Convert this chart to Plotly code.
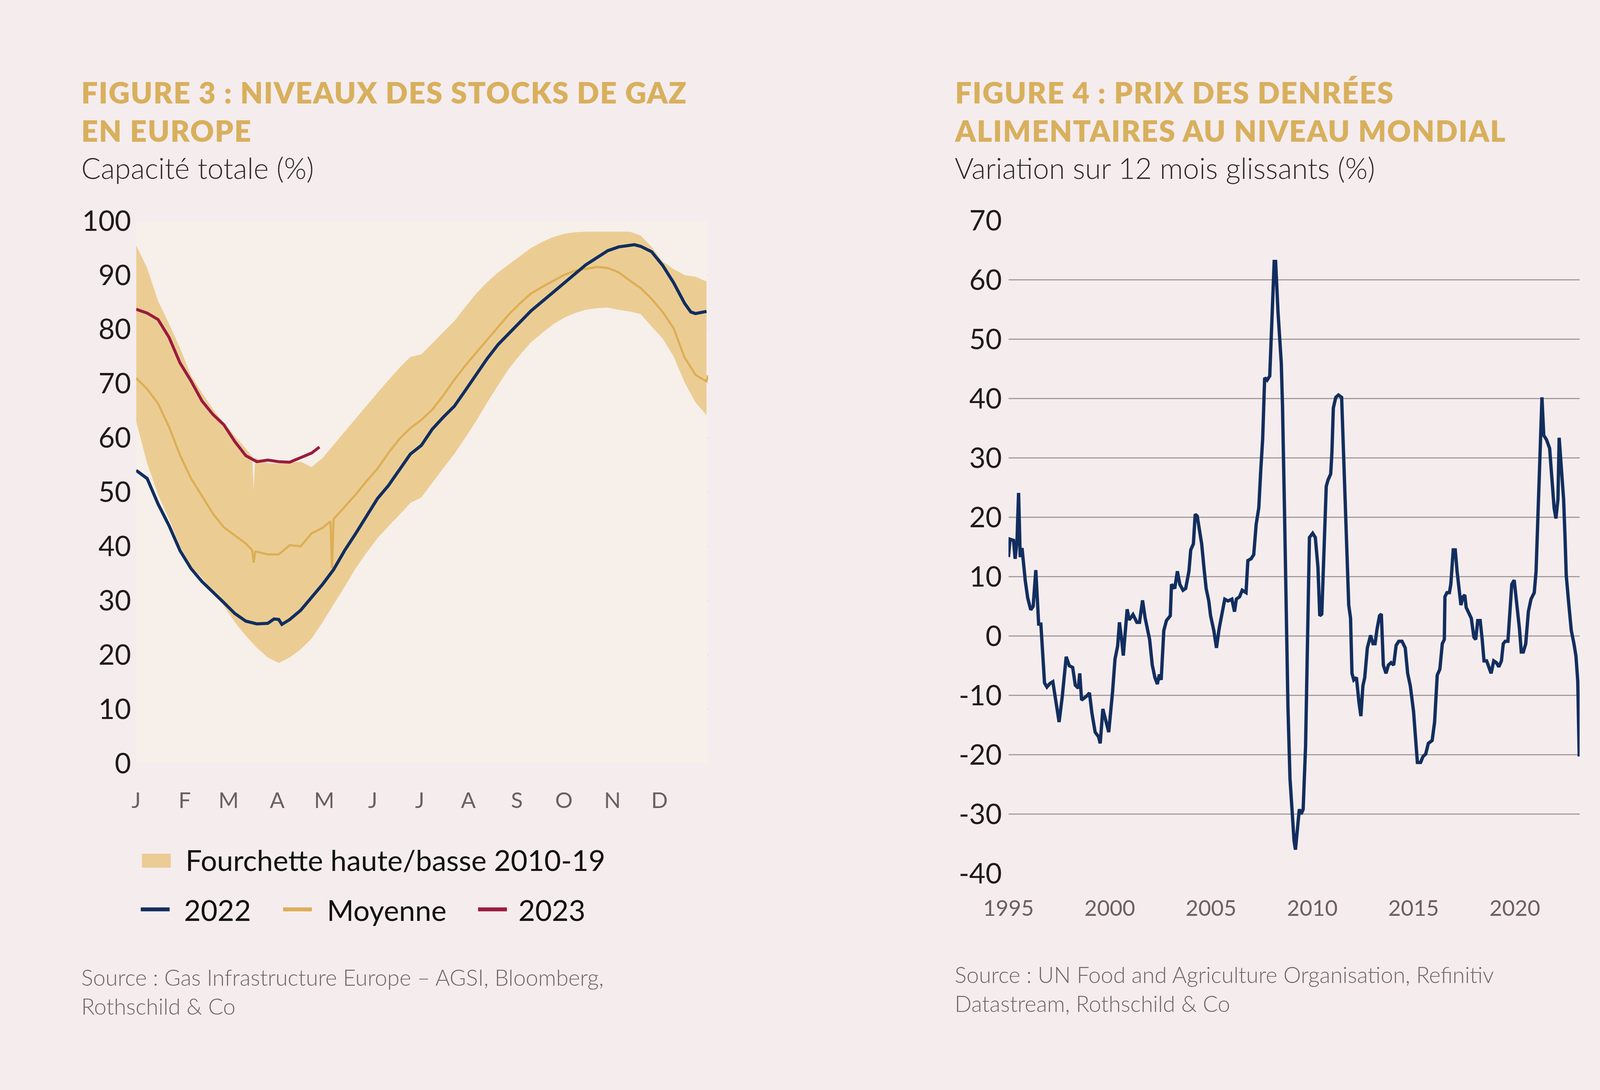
import plotly.graph_objects as go

# ── page geometry (pixels of the 4224 x 2791 page) ───────────────────────────
W, H = 4224, 2791

def px(x):
    return x / W

def py(y):
    return 1 - y / H

# ── colours / fonts ──────────────────────────────────────────────────────────
PAGE_BG = "#F5ECEE"
PLOT_BG = "#F6EFEA"
GOLD = "#D8B05D"
BAND = "rgba(231,194,119,0.75)"
MOY_COL = "#DDAE55"
NAVY = "#122E5E"
RED = "#9A1B3E"
GRID = "#A39C9C"
FONT = "Lato, 'Open Sans', sans-serif"

# ── Figure 3 : gas storage (day of year) ─────────────────────────────────────
DAYS = [0, 7, 14, 21, 28, 35, 42, 49, 56, 63, 70, 74, 75, 76, 77, 84, 91, 98,
        105, 112, 119, 126, 133, 140, 147, 154, 161, 168, 175, 182, 189, 196,
        203, 210, 217, 224, 231, 238, 245, 252, 259, 266, 273, 280, 287, 294,
        301, 308, 315, 322, 329, 336, 343, 350, 357, 364]
BAND_HI = [95.5, 91.3, 85.2, 81.0, 76.5, 71.5, 68.3, 65.3, 62.7, 60.3, 58.0,
           56.6, 50.5, 56.4, 56.2, 55.3, 55.3, 55.4, 55.6, 54.6, 56.3, 58.7,
           61.1, 63.5, 65.9, 68.3, 70.6, 72.9, 74.9, 75.4, 77.4, 79.5, 81.5,
           84.1, 86.6, 88.7, 90.5, 92.0, 93.5, 95.0, 96.1, 97.0, 97.6, 97.9,
           98.0, 98.0, 98.0, 98.0, 98.0, 97.3, 95.2, 92.5, 91.1, 90.0, 89.7,
           88.8]
BAND_LO = [63.0, 55.3, 49.5, 45.0, 40.0, 36.3, 34.2, 31.5, 29.0, 26.0, 23.5,
           22.2, 21.9, 21.6, 21.3, 19.5, 18.5, 19.5, 21.0, 23.0, 26.0, 29.3,
           32.5, 35.9, 38.8, 41.5, 43.7, 45.8, 48.0, 49.0, 51.7, 54.4, 57.0,
           60.0, 63.1, 66.5, 69.7, 72.8, 75.3, 77.6, 79.3, 80.9, 82.1, 83.0,
           83.6, 83.9, 84.0, 83.6, 83.3, 82.8, 80.5, 78.3, 75.0, 70.2, 66.5,
           64.2]

MOY_DAYS = [0, 7, 14, 21, 28, 35, 42, 49, 56, 63, 70, 74, 75, 76, 77, 84, 91,
            98, 105, 112, 119, 124, 125, 126, 133, 140, 147, 154, 161, 168,
            175, 182, 189, 196, 203, 210, 217, 224, 231, 238, 245, 252, 259,
            266, 273, 280, 287, 294, 301, 308, 315, 322, 329, 336, 343, 350,
            357, 364, 365]
MOYENNE = [71.0, 69.0, 66.3, 62.0, 56.8, 52.5, 49.3, 46.0, 43.5, 42.0, 40.5,
           39.3, 37.0, 39.0, 39.0, 38.5, 38.5, 40.2, 40.0, 42.4, 43.4, 44.6,
           36.0, 45.0, 47.3, 49.5, 52.0, 54.3, 57.2, 59.8, 61.8, 63.3, 65.2,
           67.8, 70.7, 73.3, 75.7, 78.1, 80.5, 82.8, 84.8, 86.6, 87.8, 88.9,
           90.0, 90.8, 91.2, 91.5, 91.3, 90.5, 89.0, 87.6, 85.6, 83.2, 80.2,
           74.8, 71.6, 70.4, 71.5]

Y2022_DAYS = [0, 7, 14, 21, 28, 35, 42, 49, 56, 63, 70, 77, 84, 88, 91, 93, 98,
              105, 112, 119, 126, 133, 140, 147, 154, 161, 168, 175, 182, 189,
              196, 203, 210, 217, 224, 231, 238, 245, 252, 259, 266, 273, 280,
              287, 294, 301, 308, 315, 318, 322, 329, 336, 343, 350, 354, 357,
              364]
Y2022 = [54.0, 52.5, 47.8, 43.8, 39.2, 35.9, 33.5, 31.6, 29.6, 27.6, 26.2,
         25.7, 25.8, 26.6, 26.5, 25.6, 26.5, 28.2, 30.5, 33.0, 35.7, 39.2, 42.3,
         45.5, 48.8, 51.2, 54.0, 57.0, 58.6, 61.6, 63.8, 65.8, 68.7, 71.7, 74.6,
         77.2, 79.3, 81.4, 83.4, 85.1, 86.8, 88.4, 90.2, 91.9, 93.2, 94.5, 95.2,
         95.5, 95.6, 95.3, 94.3, 91.8, 88.6, 84.8, 83.2, 82.9, 83.3]

Y2023_DAYS = [0, 7, 14, 21, 28, 35, 42, 49, 56, 63, 70, 77, 84, 91, 98, 105,
              112, 117]
Y2023 = [83.7, 83.0, 81.8, 78.5, 73.8, 70.5, 66.8, 64.3, 62.4, 59.3, 56.7,
         55.6, 55.9, 55.6, 55.5, 56.3, 57.2, 58.3]

MONTH_DAYS = [0, 31, 59, 90, 120, 151, 181, 212, 243, 273, 304, 334]
MONTH_LABELS = ["J", "F", "M", "A", "M", "J", "J", "A", "S", "O", "N", "D"]
GAS_TICKS = [0, 10, 20, 30, 40, 50, 60, 70, 80, 90, 100]

# ── Figure 4 : world food prices, 12m change (%) ─────────────────────────────
FOOD_T = [
    1995.00, 1995.08, 1995.25, 1995.33, 1995.42, 1995.50, 1995.58, 1995.67,
    1995.83, 1995.95, 1996.10, 1996.22, 1996.35, 1996.49, 1996.60, 1996.78,
    1996.90, 1997.05, 1997.19, 1997.35, 1997.50, 1997.66, 1997.85, 1998.00,
    1998.17, 1998.30, 1998.45, 1998.52, 1998.61, 1998.87, 1999.00, 1999.12,
    1999.28, 1999.45, 1999.53, 1999.66, 1999.80, 1999.95, 2000.14, 2000.26,
    2000.39, 2000.48, 2000.60, 2000.67, 2000.86, 2000.96, 2001.15, 2001.34,
    2001.47, 2001.62, 2001.75, 2001.85, 2001.97, 2002.10, 2002.23, 2002.35,
    2002.45, 2002.54, 2002.67, 2002.80, 2002.99, 2003.05, 2003.21, 2003.34,
    2003.46, 2003.62, 2003.75, 2003.91, 2004.00, 2004.13, 2004.22, 2004.32,
    2004.45, 2004.54, 2004.67, 2004.76, 2004.89, 2004.98, 2005.14, 2005.27,
    2005.40, 2005.52, 2005.68, 2005.84, 2006.03, 2006.16, 2006.25, 2006.41,
    2006.54, 2006.73, 2006.82, 2006.98, 2007.11, 2007.23, 2007.36, 2007.46,
    2007.55, 2007.65, 2007.77, 2007.90, 2007.99, 2008.12, 2008.19, 2008.31,
    2008.47, 2008.53, 2008.63, 2008.72, 2008.80, 2008.90, 2009.00, 2009.10,
    2009.17, 2009.26, 2009.36, 2009.45, 2009.55, 2009.67, 2009.77, 2009.86,
    2010.02, 2010.15, 2010.28, 2010.37, 2010.47, 2010.59, 2010.69, 2010.78,
    2010.91, 2010.97, 2011.04, 2011.16, 2011.29, 2011.45, 2011.54, 2011.64,
    2011.73, 2011.80, 2011.89, 2011.96, 2012.05, 2012.18, 2012.31, 2012.40,
    2012.50, 2012.59, 2012.72, 2012.88, 2013.00, 2013.10, 2013.20, 2013.32,
    2013.41, 2013.51, 2013.64, 2013.76, 2013.89, 2014.02, 2014.14, 2014.27,
    2014.43, 2014.59, 2014.71, 2014.84, 2015.00, 2015.12, 2015.19, 2015.35,
    2015.47, 2015.60, 2015.73, 2015.92, 2016.04, 2016.17, 2016.30, 2016.42,
    2016.52, 2016.55, 2016.65, 2016.77, 2016.84, 2016.96, 2017.06, 2017.15,
    2017.25, 2017.34, 2017.44, 2017.53, 2017.60, 2017.69, 2017.85, 2017.98,
    2018.07, 2018.17, 2018.29, 2018.39, 2018.48, 2018.61, 2018.71, 2018.83,
    2018.96, 2019.09, 2019.21, 2019.34, 2019.43, 2019.53, 2019.66, 2019.75,
    2019.85, 2019.97, 2020.10, 2020.23, 2020.32, 2020.42, 2020.54, 2020.67,
    2020.80, 2020.96, 2021.05, 2021.15, 2021.24, 2021.34, 2021.43, 2021.56,
    2021.72, 2021.81, 2021.94, 2022.03, 2022.13, 2022.19, 2022.29, 2022.41,
    2022.48, 2022.54, 2022.67, 2022.79, 2022.92, 2023.02, 2023.11, 2023.18,
]
FOOD_YOY = [
    13.3, 16.3, 16.1, 13.0, 15.9, 24.1, 13.3, 14.8,
    9.3, 6.4, 4.4, 5.0, 11.1, 2.0, 2.0, -7.9,
    -8.6, -8.0, -7.7, -11.6, -14.5, -10.1, -3.5, -5.0,
    -5.3, -8.3, -8.8, -6.3, -10.8, -10.1, -9.6, -13.0,
    -16.2, -17.0, -18.1, -12.3, -14.5, -16.2, -9.4, -3.9,
    -1.7, 2.3, -1.0, -3.3, 4.5, 2.7, 3.6, 2.3,
    2.3, 6.0, 3.0, 1.5, -0.6, -4.9, -7.0, -8.1,
    -6.5, -7.4, 0.9, 2.6, 3.4, 8.7, 8.0, 10.9,
    8.7, 7.7, 8.0, 10.9, 14.5, 15.5, 20.5, 20.2,
    17.3, 15.5, 10.9, 8.0, 5.9, 3.4, 0.9, -2.0,
    1.2, 3.4, 6.2, 5.9, 6.2, 4.1, 6.2, 6.6,
    7.7, 7.3, 12.7, 13.0, 13.7, 18.8, 21.6, 28.1,
    33.1, 43.5, 43.1, 43.8, 53.1, 63.1, 63.1, 54.5,
    46.0, 38.8, 20.9, 3.0, -12.0, -24.0, -30.0, -34.5,
    -36.0, -32.1, -29.2, -30.0, -29.2, -18.5, -0.6, 16.6,
    17.3, 16.6, 11.6, 3.4, 3.7, 15.2, 25.2, 26.3,
    27.3, 30.9, 38.4, 40.2, 40.6, 40.2, 31.6, 22.3,
    13.0, 5.2, 3.0, -6.3, -7.4, -7.0, -11.3, -13.5,
    -8.4, -7.0, -2.0, 0.1, -1.3, -1.3, 1.2, 3.4,
    3.7, -4.9, -6.3, -4.9, -4.5, -4.9, -1.6, -0.9,
    -0.9, -2.0, -6.3, -8.4, -12.7, -18.5, -21.3, -21.3,
    -20.3, -19.9, -18.1, -17.6, -14.5, -6.6, -5.6, -1.3,
    -0.6, 6.6, 7.3, 7.3, 8.7, 14.5, 14.5, 10.9,
    7.3, 5.2, 6.6, 6.9, 4.8, 4.1, 3.0, -0.2,
    -0.6, 2.6, 2.6, -0.6, -4.2, -4.2, -5.2, -6.3,
    -4.2, -4.5, -5.2, -4.2, -1.3, -0.9, -0.9, 3.7,
    8.7, 9.4, 5.5, 1.2, -2.7, -2.7, -1.3, 4.1,
    6.2, 7.3, 10.9, 20.9, 30.9, 40.2, 33.8, 33.1,
    31.6, 28.1, 21.6, 19.8, 23.0, 33.4, 28.8, 23.0,
    16.6, 10.2, 5.2, 0.9, -1.3, -3.4, -7.7, -20.3,
]
YEAR_TICKS = [1995, 2000, 2005, 2010, 2015, 2020]
FOOD_TICKS = [-40, -30, -20, -10, 0, 10, 20, 30, 40, 50, 60, 70]


fig = go.Figure()

# Left — band (lower edge first, upper edge fills down to it)
fig.add_trace(go.Scatter(
    x=DAYS, y=BAND_LO, mode="lines", line=dict(width=0, color=BAND),
    hoverinfo="skip", showlegend=False, xaxis="x", yaxis="y",
))
fig.add_trace(go.Scatter(
    x=DAYS, y=BAND_HI, mode="lines", line=dict(width=0, color=BAND),
    fill="tonexty", fillcolor=BAND,
    name="Fourchette haute/basse 2010-19", showlegend=False,
    xaxis="x", yaxis="y",
))
fig.add_trace(go.Scatter(
    x=MOY_DAYS, y=MOYENNE, mode="lines", name="Moyenne",
    line=dict(color=MOY_COL, width=5.5), showlegend=False,
    xaxis="x", yaxis="y",
))
fig.add_trace(go.Scatter(
    x=Y2022_DAYS, y=Y2022, mode="lines", name="2022",
    line=dict(color=NAVY, width=8), showlegend=False,
    xaxis="x", yaxis="y",
))
fig.add_trace(go.Scatter(
    x=Y2023_DAYS, y=Y2023, mode="lines", name="2023",
    line=dict(color=RED, width=7.5), showlegend=False,
    xaxis="x", yaxis="y",
))

# Right — food prices
fig.add_trace(go.Scatter(
    x=FOOD_T, y=FOOD_YOY, mode="lines", name="FAO",
    line=dict(color=NAVY, width=8.5), showlegend=False,
    xaxis="x2", yaxis="y2",
))

tick_dark = dict(family=FONT, size=72, color="#1E1B1B")
tick_grey = dict(family=FONT, size=56, color="#6A6060")

fig.update_layout(
    width=W, height=H, autosize=False,
    margin=dict(l=0, r=0, t=0, b=0),
    paper_bgcolor=PAGE_BG,
    plot_bgcolor=PAGE_BG,
    font=dict(family=FONT, color="#2A2626"),
    xaxis=dict(
        domain=[px(288), px(1775)], range=[0, 365],
        tickvals=MONTH_DAYS, ticktext=MONTH_LABELS,
        tickfont=tick_grey, ticks="", showgrid=False, zeroline=False,
        showline=False, ticklabelstandoff=58, anchor="y",
    ),
    yaxis=dict(
        domain=[py(1969), py(536)], range=[0, 100],
        tickvals=GAS_TICKS, ticktext=[str(v) for v in GAS_TICKS],
        tickfont=tick_dark, ticks="", showgrid=True, gridcolor=GRID,
        gridwidth=2.5, zeroline=False, showline=False,
        ticklabelstandoff=12, anchor="x",
    ),
    xaxis2=dict(
        domain=[px(2556), px(4041)], range=[1995, 2023.2],
        tickvals=YEAR_TICKS, ticktext=[str(v) for v in YEAR_TICKS],
        tickfont=tick_grey, ticks="", showgrid=False, zeroline=False,
        showline=False, ticklabelstandoff=52, anchor="y2",
    ),
    yaxis2=dict(
        domain=[py(2260), py(535)], range=[-40, 70],
        tickvals=FOOD_TICKS, ticktext=[str(v) for v in FOOD_TICKS],
        tickfont=tick_dark, ticks="", showgrid=True, gridcolor=GRID,
        gridwidth=2.5, zeroline=False, showline=False,
        ticklabelstandoff=16, anchor="x2",
    ),
)

# cream plot area behind the gas chart
fig.add_shape(type="rect", xref="x", yref="y", x0=0, x1=365, y0=0, y1=100,
              fillcolor=PLOT_BG, line=dict(width=0), layer="between")

# ── titles, subtitles, sources ───────────────────────────────────────────────
title_font = dict(family=FONT, size=75, color=GOLD, weight=800)
sub_font = dict(family=FONT, size=74, color="#2E2A2A", weight=300)
src_font = dict(family=FONT, size=57, color="#6E6464", weight=300)

texts = [
    (143, 247, "FIGURE 3 : NIVEAUX DES STOCKS DE GAZ<br>EN EUROPE", title_font),
    (143, 396, "Capacité totale (%)", sub_font),
    (2414, 247, "FIGURE 4 : PRIX DES DENRÉES<br>ALIMENTAIRES AU NIVEAU MONDIAL", title_font),
    (2414, 396, "Variation sur 12 mois glissants (%)", sub_font),
    (143, 2572, "Source : Gas Infrastructure Europe – AGSI, Bloomberg,<br>Rothschild & Co", src_font),
    (2414, 2565, "Source : UN Food and Agriculture Organisation, Refinitiv<br>Datastream, Rothschild & Co", src_font),
]
for x, y, txt, f in texts:
    fig.add_annotation(x=px(x), y=py(y), xref="paper", yref="paper",
                       text=txt, showarrow=False, xanchor="left",
                       yanchor="middle", align="left", font=f)

# ── legend (drawn by hand: two rows) ─────────────────────────────────────────
leg_font = dict(family=FONT, size=74, color="#111111")
fig.add_shape(type="rect", xref="paper", yref="paper",
              x0=px(303), x1=px(378), y0=py(2245), y1=py(2208),
              fillcolor=BAND, line=dict(width=0))
fig.add_annotation(x=px(414), y=py(2224), xref="paper", yref="paper",
                   text="Fourchette haute/basse 2010-19", showarrow=False,
                   xanchor="left", yanchor="middle", font=leg_font)

for x0, x1, tx, col, label in [(300, 375, 410, NAVY, "2022"),
                               (670, 745, 782, MOY_COL, "Moyenne"),
                               (1177, 1252, 1280, RED, "2023")]:
    fig.add_shape(type="line", xref="paper", yref="paper",
                  x0=px(x0), x1=px(x1), y0=py(2355), y1=py(2355),
                  line=dict(color=col, width=10))
    fig.add_annotation(x=px(tx), y=py(2356), xref="paper", yref="paper",
                       text=label, showarrow=False, xanchor="left",
                       yanchor="middle", font=leg_font)

# page without the default body margin; tracked (letter-spaced) titles
POST = (
    "document.body.style.margin='0';"
    "document.body.style.overflow='hidden';"
    "var t=document.querySelectorAll('.annotation-text');"
    "[0,2].forEach(function(i){if(t[i]){t[i].style.letterSpacing='0.028em';}});"
)

fig.write_html("out.html", config={"displayModeBar": False}, post_script=POST)
